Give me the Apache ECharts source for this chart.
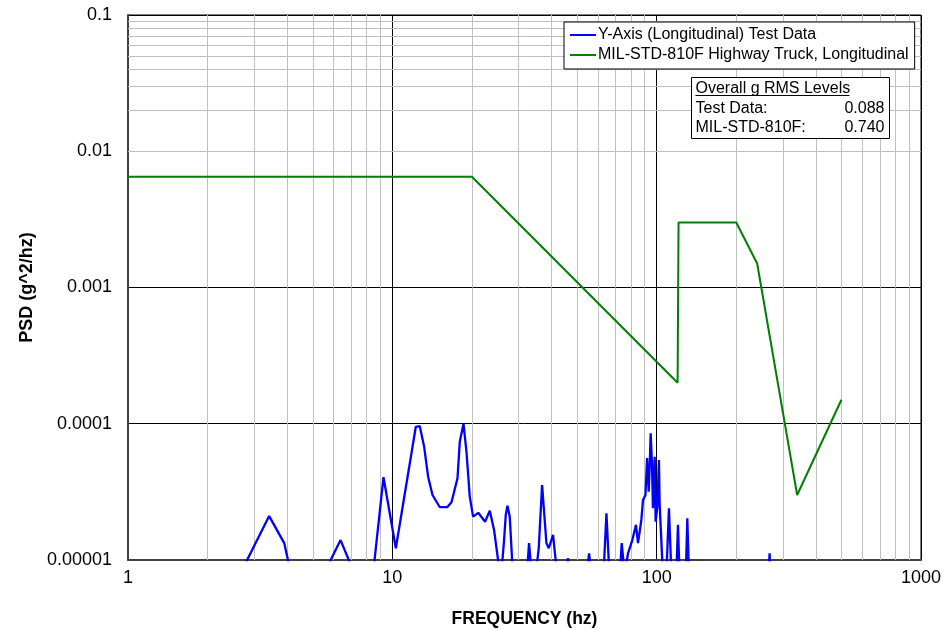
<!DOCTYPE html>
<html>
<head>
<meta charset="utf-8">
<script src="https://cdn.jsdelivr.net/npm/echarts@6/dist/echarts.min.js"></script>
<style>
html,body{margin:0;padding:0;background:#fff;}
#chart{width:951px;height:630px;}
</style>
</head>
<body>
<div id="chart"></div>
<script>
// ---- data ----
const testFreq = [1, 2.44, 3.42, 3.90, 4.39, 5.37, 6.37, 7.32, 8.22, 9.26, 10.31, 12.27, 12.70, 13.19, 13.66, 14.19, 15.12, 16.12, 16.74, 17.64, 18.00, 18.59, 19.08, 19.63, 20.21, 21.14, 22.43, 23.37, 24.26, 25.72, 26.47, 26.86, 27.26, 27.81, 28.80, 32.3, 32.90, 33.55, 34.87, 35.80, 36.86, 37.17, 38.28, 39.06, 40.55, 42.24, 44.5, 46.2, 48.0, 54.0, 55.5, 57.0, 62.5, 64.56, 66.7, 72.5, 73.75, 75.7, 77.9, 79.1, 80.9, 83.5, 85.0, 87.5, 88.8, 90.7, 92.0, 93.3, 94.1, 94.9, 96.0, 96.8, 98.3, 99.1, 100.6, 102.0, 102.6, 106.3, 108.6, 111.3, 113.9, 118.5, 120.4, 122.2, 128.7, 130.6, 132.7, 265.1, 267.4, 269.8, 500];
const testPsd  = [5e-6, 5.7e-6, 2.1e-5, 1.33e-5, 4.7e-6, 7.2e-6, 1.40e-5, 7.3e-6, 4.8e-6, 4.05e-5, 1.22e-5, 9.5e-5, 9.6e-5, 6.8e-5, 4.08e-5, 3.0e-5, 2.44e-5, 2.44e-5, 2.65e-5, 3.98e-5, 7.4e-5, 1.0e-4, 6.2e-5, 2.92e-5, 2.08e-5, 2.22e-5, 1.91e-5, 2.30e-5, 1.66e-5, 7.1e-6, 1.40e-5, 2.14e-5, 2.5e-5, 2.08e-5, 6.0e-6, 8.0e-6, 1.33e-5, 8.5e-6, 7.8e-6, 1.22e-5, 3.55e-5, 3.55e-5, 1.33e-5, 1.22e-5, 1.53e-5, 7.1e-6, 6e-6, 1.03e-5, 6e-6, 7e-6, 1.12e-5, 7e-6, 5.9e-6, 2.2e-5, 6.0e-6, 7.5e-6, 1.33e-5, 7.8e-6, 1.12e-5, 1.12e-5, 1.40e-5, 1.81e-5, 1.33e-5, 1.97e-5, 2.76e-5, 3.0e-5, 5.6e-5, 3.17e-5, 4.84e-5, 8.5e-5, 5.13e-5, 2.4e-5, 5.73e-5, 1.91e-5, 2.46e-5, 5.42e-5, 2.61e-5, 5.9e-6, 7.1e-6, 2.4e-5, 7.1e-6, 7.1e-6, 1.81e-5, 7.1e-6, 7.1e-6, 2.02e-5, 7.1e-6, 7.8e-6, 1.12e-5, 7.8e-6, 5e-6];
const milFreq = [1, 20, 120, 121, 200, 240, 340, 500];
const milPsd  = [0.0065, 0.0065, 0.0002, 0.003, 0.003, 0.0015, 0.00003, 0.00015];
const seriesNames = ['Y-Axis (Longitudinal) Test Data', 'MIL-STD-810F Highway Truck, Longitudinal'];
const xTickLabels = ['1', '10', '100', '1000'];
const yTickLabels = ['0.00001', '0.0001', '0.001', '0.01', '0.1'];
const rmsTitle = 'Overall g RMS Levels';
const rmsRows = ['Test Data:', 'MIL-STD-810F:'];
const rmsValues = ['0.088', '0.740'];

// ---- build ----
const zip = (a, b) => a.map((v, i) => [v, b[i]]);
const minorX = [];
for (let e = 0; e < 3; e++) for (let m = 2; m <= 9; m++) minorX.push({ xAxis: m * Math.pow(10, e) });
const minorY = [];
for (let e = -5; e < -1; e++) for (let m = 2; m <= 9; m++) minorY.push({ yAxis: +(m * Math.pow(10, e)).toPrecision(3) });

const FONT = 'Liberation Sans, Arial, sans-serif';
const chart = echarts.init(document.getElementById('chart'), null, { renderer: 'canvas' });
chart.setOption({
  animation: false,
  backgroundColor: '#fff',
  grid: { left: 128, right: 30, top: 15, bottom: 70, containLabel: false, outerBoundsMode: 'none',
    show: true, borderColor: '#000', borderWidth: 1, backgroundColor: 'transparent' },
  legend: {
    data: seriesNames, z: 20,
    orient: 'vertical', left: 564, top: 22,
    icon: 'rect', itemWidth: 26, itemHeight: 2, itemGap: 4,
    padding: [5, 6, 6, 6],
    backgroundColor: '#fff', borderColor: '#000', borderWidth: 1, borderRadius: 0,
    textStyle: { fontFamily: FONT, fontSize: 16, color: '#000', padding: [0, 0, 0, -3] },
    selectedMode: false
  },
  xAxis: {
    type: 'log', logBase: 10, min: 1, max: 1000,
    name: 'FREQUENCY (hz)', nameLocation: 'middle', nameGap: 50,
    nameTextStyle: { fontFamily: FONT, fontSize: 17.5, fontWeight: 'bold', color: '#000' },
    axisLine: { show: true, onZero: false, lineStyle: { color: '#404040', width: 2 } },
    axisTick: { show: false },
    axisLabel: { fontFamily: FONT, fontSize: 18, color: '#000', margin: 9,
      formatter: v => xTickLabels[Math.round(Math.log10(v))] },
    splitLine: { show: true, lineStyle: { color: '#000', width: 1 } },
    minorTick: { show: false }
  },
  yAxis: {
    type: 'log', logBase: 10, min: 0.00001, max: 0.1,
    name: 'PSD (g^2/hz)', nameLocation: 'middle', nameGap: 85,
    nameTextStyle: { fontFamily: FONT, fontSize: 18, fontWeight: 'bold', color: '#000' },
    axisLine: { show: true, onZero: false, lineStyle: { color: '#404040', width: 2 } },
    axisTick: { show: false },
    axisLabel: { fontFamily: FONT, fontSize: 18, color: '#000', margin: 16,
      formatter: v => yTickLabels[Math.round(Math.log10(v)) + 5] },
    splitLine: { show: true, lineStyle: { color: '#000', width: 1 } }
  },
  series: [
    {
      name: 'minor-grid', type: 'line', data: [[1, 0.00001]], z: 1, silent: true,
      showSymbol: false, lineStyle: { opacity: 0 },
      markLine: {
        z: 1, silent: true, symbol: ['none', 'none'], label: { show: false },
        lineStyle: { color: '#c0c0c0', type: 'solid', width: 1 },
        emphasis: { disabled: true },
        data: minorX.concat(minorY)
      }
    },
    {
      name: seriesNames[0], type: 'line', data: zip(testFreq, testPsd), z: 4,
      showSymbol: false, clip: true, color: '#0000ff',
      lineStyle: { color: '#0000ff', width: 2.3 }
    },
    {
      name: seriesNames[1], type: 'line', data: zip(milFreq, milPsd), z: 3,
      showSymbol: false, clip: true, color: '#008000',
      lineStyle: { color: '#008000', width: 2 }
    }
  ],
  graphic: [{
    type: 'group', left: 691, top: 77, z: 20,
    children: [
      { type: 'rect', z: 20, shape: { x: 0, y: 0, width: 198, height: 61 }, style: { fill: '#fff', stroke: '#000', lineWidth: 1 } },
      { type: 'text', z: 21, x: 4, y: 11, style: { text: rmsTitle, fontFamily: FONT, fontSize: 16, fill: '#000', textVerticalAlign: 'middle' } },
      { type: 'line', z: 21, shape: { x1: 4, y1: 18, x2: 158, y2: 18 }, style: { stroke: '#000', lineWidth: 1 } },
      { type: 'text', z: 21, x: 4, y: 31, style: { text: rmsRows[0], fontFamily: FONT, fontSize: 16, fill: '#000', textVerticalAlign: 'middle' } },
      { type: 'text', z: 21, x: 193, y: 31, style: { text: rmsValues[0], fontFamily: FONT, fontSize: 16, fill: '#000', textAlign: 'right', textVerticalAlign: 'middle' } },
      { type: 'text', z: 21, x: 4, y: 50, style: { text: rmsRows[1], fontFamily: FONT, fontSize: 16, fill: '#000', textVerticalAlign: 'middle' } },
      { type: 'text', z: 21, x: 193, y: 50, style: { text: rmsValues[1], fontFamily: FONT, fontSize: 16, fill: '#000', textAlign: 'right', textVerticalAlign: 'middle' } }
    ]
  }]
});
</script>
</body>
</html>
